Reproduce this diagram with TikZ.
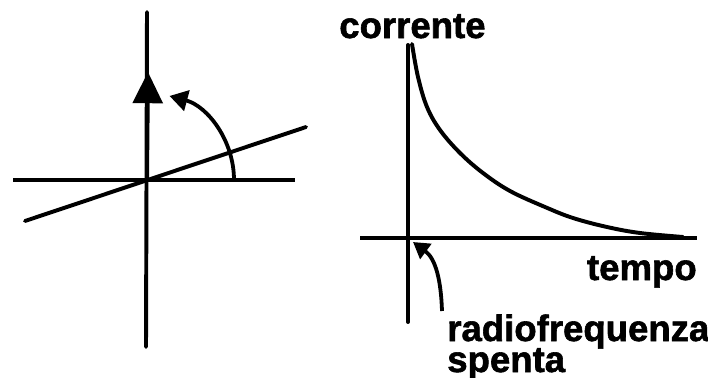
\documentclass[tikz,border=0pt]{standalone}
\usepackage{fontspec}
\setmainfont{Liberation Sans}[BoldFeatures={FakeBold=1.6}]
\usetikzlibrary{arrows.meta, positioning}

\begin{document}
\begin{tikzpicture}[
    x=0.025cm, y=0.025cm,
    axis/.style={line width=2.8pt, line cap=round},
    thinaxis/.style={line width=2.3pt},
    bigarrow/.style={-{Triangle[length=0.78cm, width=0.74cm]}, line width=2.8pt},
    arcarrow/.style={-{Triangle[length=0.45cm, width=0.52cm]}, line width=2.7pt},
    smallarrow/.style={-{Triangle[length=0.4cm, width=0.46cm]}, line width=2.7pt},
    lab/.style={font=\bfseries\fontsize{26}{29}\selectfont, inner sep=0pt},
]
\useasboundingbox (0,0) rectangle (708,377);

% ---------- Left: frame with tilted axis ----------
\coordinate (O)    at (147,197);
\coordinate (vtop) at (147,365);
\coordinate (vbot) at (146,30);
\coordinate (vtip) at (148,305);
\coordinate (hl)   at (13,197);
\coordinate (hr)   at (295,197);
\coordinate (tl)   at (25,156);
\coordinate (tr)   at (306,250);
\coordinate (arcstart) at (234,197);

\draw[axis] (vbot) -- (vtop);
\draw[thinaxis] (hl) -- (hr);
\draw[axis] (tl) -- (tr);
\draw[bigarrow] (O) -- (vtip);
\draw[arcarrow] (arcstart) arc[start angle=0, end angle=75, radius=87];

% ---------- Right: current vs time ----------
\coordinate (yt) at (408,332);
\coordinate (yb) at (408,55);
\coordinate (xl) at (360,139);
\coordinate (xr) at (697,139);
\coordinate (rfend) at (442,66);
\coordinate (rftip) at (413,135);

\draw[axis] (yb) -- (yt);
\draw[thinaxis] (xl) -- (xr);
\draw[axis] plot[smooth, tension=0.6] coordinates {
    (412,333) (418,300) (427,270) (440,247) (460,224) (483,204)
    (510,186) (545,170) (573,159) (607,150) (640,144) (683,140)};
\draw[smallarrow] (rfend) .. controls (441,96) and (436,118) .. (rftip);

% ---------- Labels ----------
\node[lab, anchor=base west] (corrente) at (339,339) {corrente};
\node[lab, anchor=base east] (tempo)    at (697,97)  {tempo};
\node[lab, anchor=base west] (rf)       at (447,36)  {radiofrequenza};
\node[lab, anchor=base west] (spenta)   at (447,5)   {spenta};

\end{tikzpicture}
\end{document}
